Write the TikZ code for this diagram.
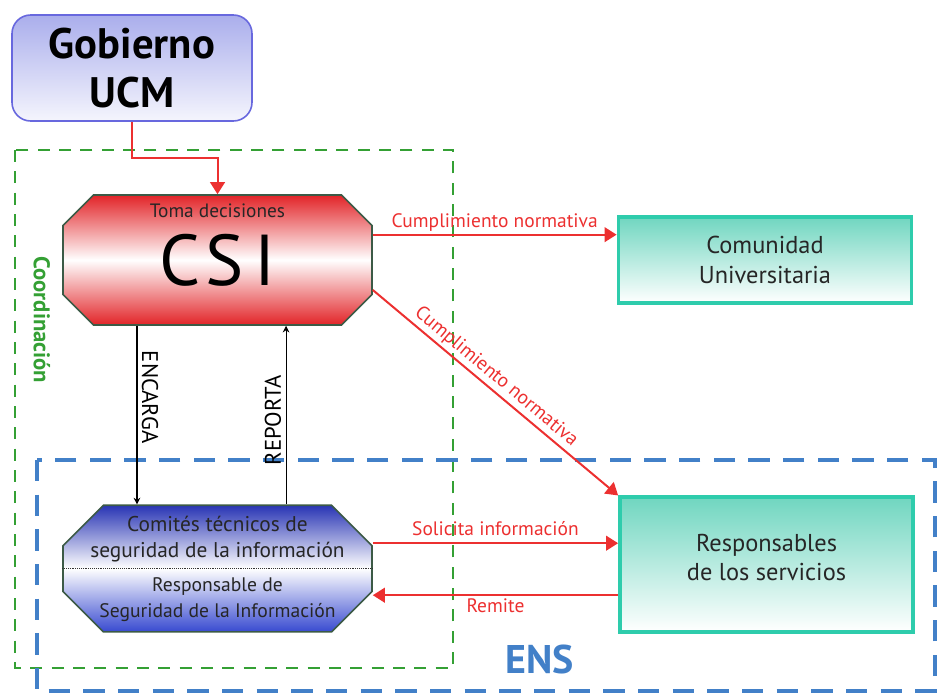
\documentclass[tikz,border=0pt]{standalone}
\usepackage{fontspec}
\setmainfont{PT Sans}
\usetikzlibrary{arrows.meta,shapes.misc,positioning,calc}
\definecolor{csired}{RGB}{226,36,40}
\definecolor{arrowred}{RGB}{236,48,48}
\definecolor{octaline}{RGB}{60,90,70}
\definecolor{ctblue}{RGB}{40,52,180}
\definecolor{ctblue2}{RGB}{56,74,208}
\definecolor{govline}{RGB}{104,104,222}
\definecolor{govfill}{RGB}{170,174,236}
\definecolor{tealline}{RGB}{46,204,172}
\definecolor{tealfill}{RGB}{112,214,192}
\definecolor{ensgreen}{RGB}{52,160,52}
\definecolor{ensblue}{RGB}{66,128,200}
\tikzstyle{redarrow} = [draw=arrowred, line width=1.5pt, -{Triangle[width=11pt,length=9pt]}]
\tikzstyle{blackarrow} = [draw=black, line width=0.8pt, -{Stealth[width=5pt,length=5pt]}]
\tikzstyle{octa} = [chamfered rectangle, chamfered rectangle xsep=27pt, draw=octaline, line width=1.2pt, minimum width=231.75pt, inner sep=0pt, align=center]
\tikzstyle{tealbox} = [rectangle, draw=tealline, line width=2.6pt, top color=tealfill, bottom color=white, minimum width=220pt, text=black!85, align=center, font=\fontsize{18.3}{22}\selectfont]
\tikzstyle{redlabel} = [text=arrowred, font=\fontsize{14.6}{16}\selectfont, inner sep=2pt]
\tikzstyle{sidelabel} = [font=\fontsize{17}{19}\selectfont]

\begin{document}
\begin{tikzpicture}[x=0.75pt, y=-0.75pt]
\useasboundingbox (0,0) rectangle (937,695);

% zones
\draw[ensgreen, line width=2.2pt, dash pattern=on 9pt off 7pt] (15,150) rectangle (453,668);
\draw[ensblue, line width=3pt, dash pattern=on 16pt off 10pt] (37,460) rectangle (935,691);
\node (coord) [rotate=-90, text=ensgreen, font=\fontsize{17}{19}\selectfont\bfseries] at (42,320) {Coordinación};
\node (ens) [text=ensblue, font=\fontsize{30}{32}\selectfont\bfseries] at (540,659) {ENS};

% Gobierno
\node (gob) [rectangle, rounded corners=14pt, draw=govline, line width=1.2pt, top color=govfill, bottom color=govfill!12, minimum width=180pt, minimum height=79.5pt, align=center, font=\fontsize{32}{37}\selectfont\bfseries] at (132,68) {Gobierno\\UCM};

% CSI and comites
\node (csi) [octa, minimum height=97.5pt, top color=csired, bottom color=csired, middle color=white, font=\fontsize{54}{54}\selectfont] at (217.5,260) {C\hspace{4pt}S\hspace{8pt}I};
\node (toma) [below=4pt of csi.north, font=\fontsize{14.5}{16}\selectfont, text=black!85] {Toma decisiones};
\node (comites) [octa, inner xsep=-20pt, below of=csi, node distance=231.4pt, minimum height=95pt, top color=ctblue, bottom color=ctblue2, middle color=white, text=black!85, font=\fontsize{16}{19.5}\selectfont] {Comités técnicos de\\seguridad de la información\\[6pt]{\fontsize{14.7}{18}\selectfont Responsable de}\\{\fontsize{14.7}{18}\selectfont Seguridad de la Información}};
\draw[densely dotted, black!80] (comites.west) -- (comites.east);

% Right boxes
\node (comunidad) [tealbox, right of=csi, node distance=410.6pt, minimum height=64.5pt] {Comunidad\\Universitaria};
\node (resp) [tealbox, minimum height=101pt] at (766.5,564.5) {Responsables\\de los servicios\\[-11pt]};

% connectors
\draw[redarrow] (gob.south) |- ($(gob.south)!0.5!(csi.north)$) -| (csi.north);
\draw[blackarrow] ([xshift=-60.4pt]csi.south) -- ([xshift=-60.4pt]comites.north)
  node[pos=0.4, rotate=-90, anchor=south, sidelabel] (encarga) {ENCARGA};
\draw[blackarrow] ([xshift=51.4pt]comites.north) -- ([xshift=51.4pt]csi.south)
  node[pos=0.47, rotate=90, anchor=south, sidelabel] (reporta) {REPORTA};
\draw[redarrow] ([yshift=19pt]csi.east) -- ([yshift=19pt]csi.east -| comunidad.west)
  node[midway, above, redlabel] (cumpl1) {Cumplimiento normativa};
\draw[redarrow] ([yshift=-22.5pt]csi.east) -- (resp.north west)
  node[pos=0.47, sloped, above, redlabel] (cumpl2) {Cumplimiento normativa};
\draw[redarrow] ([yshift=19pt]comites.east) -- ([yshift=19pt]comites.east -| resp.west)
  node[midway, above, redlabel, yshift=3pt] (solicita) {Solicita información};
\draw[redarrow] ([yshift=-20pt]comites.east -| resp.west) -- ([yshift=-20pt]comites.east)
  node[midway, below, redlabel] (remite) {Remite};
\end{tikzpicture}
\end{document}
